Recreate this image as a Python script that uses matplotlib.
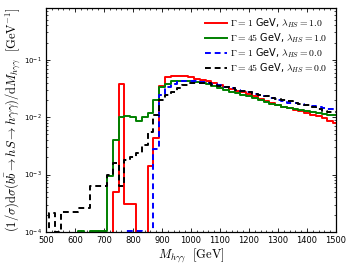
import numpy as np
import matplotlib
matplotlib.use("Agg")
import matplotlib.pyplot as plt
from matplotlib.ticker import MultipleLocator, LogLocator, NullFormatter

plt.rcParams['mathtext.fontset'] = 'cm'

# bin centres, 20 GeV bins
mass = list(range(500, 1501, 20))
OFF = 1e-6  # below plotted range

red = [OFF]*12 + [5.0e-4, 3.8e-2, 3.1e-4, 3.1e-4, OFF, OFF, 1.4e-3, 4.4e-3, 3.5e-2,
       5.1e-2, 5.2e-2, 5.3e-2, 5.2e-2, 5.0e-2, 4.6e-2, 4.4e-2, 4.2e-2, 3.9e-2, 3.6e-2,
       3.3e-2, 3.1e-2, 2.9e-2, 2.7e-2, 2.5e-2, 2.3e-2, 2.1e-2, 1.95e-2, 1.8e-2, 1.65e-2,
       1.5e-2, 1.45e-2, 1.35e-2, 1.3e-2, 1.2e-2, 1.1e-2, 1.05e-2, 9.5e-3, 8.5e-3, 8.0e-3]
green = [OFF]*6 + [1.05e-4, OFF, 1.05e-4, 1.05e-4, 1.05e-4, 9.5e-4, 4.0e-3, 1.0e-2,
         1.05e-2, 1.0e-2, 8.5e-3, 1.0e-2, 1.2e-2, 2.0e-2, 3.4e-2,
         3.8e-2, 4.2e-2, 4.3e-2, 4.3e-2, 4.2e-2, 4.1e-2, 4.0e-2, 3.8e-2, 3.5e-2, 3.2e-2,
         3.0e-2, 2.8e-2, 2.6e-2, 2.4e-2, 2.3e-2, 2.15e-2, 2.0e-2, 1.85e-2, 1.7e-2, 1.6e-2,
         1.5e-2, 1.45e-2, 1.4e-2, 1.35e-2, 1.3e-2, 1.25e-2, 1.2e-2, 1.15e-2, 1.1e-2, 1.1e-2]
blue = [OFF]*14 + [1.05e-4, 1.05e-4, 1.05e-4, OFF, OFF, 2.8e-3, 2.4e-2,
        3.4e-2, 3.8e-2, 4.2e-2, 4.3e-2, 4.3e-2, 4.2e-2, 4.1e-2, 4.0e-2, 3.8e-2, 3.6e-2,
        3.4e-2, 3.2e-2, 3.0e-2, 2.9e-2, 2.7e-2, 2.5e-2, 2.4e-2, 2.3e-2, 2.15e-2, 2.0e-2,
        1.9e-2, 1.8e-2, 1.75e-2, 1.7e-2, 1.6e-2, 1.55e-2, 1.5e-2, 1.45e-2, 1.4e-2, 1.4e-2]
black = [OFF, 2.1e-4, 1.0e-4, 2.2e-4, 2.2e-4, 2.2e-4, 2.6e-4, 2.6e-4, 6.3e-4, 6.3e-4,
         6.3e-4, 1.0e-3, 1.6e-3, 6.3e-4, 1.8e-3, 2.0e-3, 2.4e-3, 3.3e-3, 5.5e-3, 1.1e-2,
         2.0e-2, 2.4e-2, 2.8e-2, 3.2e-2, 3.7e-2, 4.0e-2, 4.0e-2, 4.0e-2, 3.9e-2, 3.7e-2,
         3.5e-2, 3.3e-2, 3.2e-2, 3.0e-2, 2.9e-2, 2.7e-2, 2.5e-2, 2.4e-2, 2.3e-2, 2.2e-2,
         2.1e-2, 2.0e-2, 1.9e-2, 1.8e-2, 1.7e-2, 1.6e-2, 1.5e-2, 1.4e-2, 1.3e-2, 1.25e-2,
         1.25e-2]

labels = [r"$\Gamma=1$ GeV, $\lambda_{HS}=1.0$",
          r"$\Gamma=45$ GeV, $\lambda_{HS}=1.0$",
          r"$\Gamma=1$ GeV, $\lambda_{HS}=0.0$",
          r"$\Gamma=45$ GeV, $\lambda_{HS}=0.0$"]

fig = plt.figure(figsize=(3.49, 2.66), dpi=100)
ax = fig.add_axes([0.132, 0.128, 0.831, 0.842])

ax.step(mass, red, where='mid', color='red', lw=1.4, label=labels[0])
ax.step(mass, green, where='mid', color='green', lw=1.4, label=labels[1])
ax.step(mass, blue, where='mid', color='blue', lw=1.4, ls=(0, (3, 2)), label=labels[2])
ax.step(mass, black, where='mid', color='black', lw=1.4, ls=(0, (3, 2)), label=labels[3])

ax.set_yscale('log')
ax.set_xlim(500, 1500)
ax.set_ylim(1e-4, 0.8)
ax.xaxis.set_major_locator(MultipleLocator(100))
ax.xaxis.set_minor_locator(MultipleLocator(20))
ax.yaxis.set_major_locator(LogLocator(base=10, numticks=10))
ax.yaxis.set_minor_locator(LogLocator(base=10, subs=np.arange(2, 10), numticks=10))
ax.yaxis.set_minor_formatter(NullFormatter())
ax.tick_params(which='both', direction='in', top=True, right=True)
ax.tick_params(which='major', length=3, width=0.6)
ax.tick_params(which='minor', length=1.5, width=0.5)
ax.tick_params(axis='x', labelsize=6, pad=3)
ax.tick_params(axis='y', labelsize=5, pad=3)
for s in ax.spines.values():
    s.set_linewidth(0.9)

ax.set_xlabel(r"$M_{h\gamma\gamma}\ \ [\mathrm{GeV}]$", fontsize=9, labelpad=1)
ax.set_ylabel(r"$(1/\sigma)\mathrm{d}\sigma(b\bar{b}\rightarrow hS\rightarrow h\gamma\gamma)/\mathrm{d}M_{h\gamma\gamma}\ \ [\mathrm{GeV}^{-1}]$",
              fontsize=9, labelpad=1)

ax.legend(loc='upper right', frameon=False, fontsize=7, handlelength=2.2,
          handletextpad=0.35, labelspacing=0.12, borderaxespad=0.5)

fig.savefig('out.png', dpi=100)
